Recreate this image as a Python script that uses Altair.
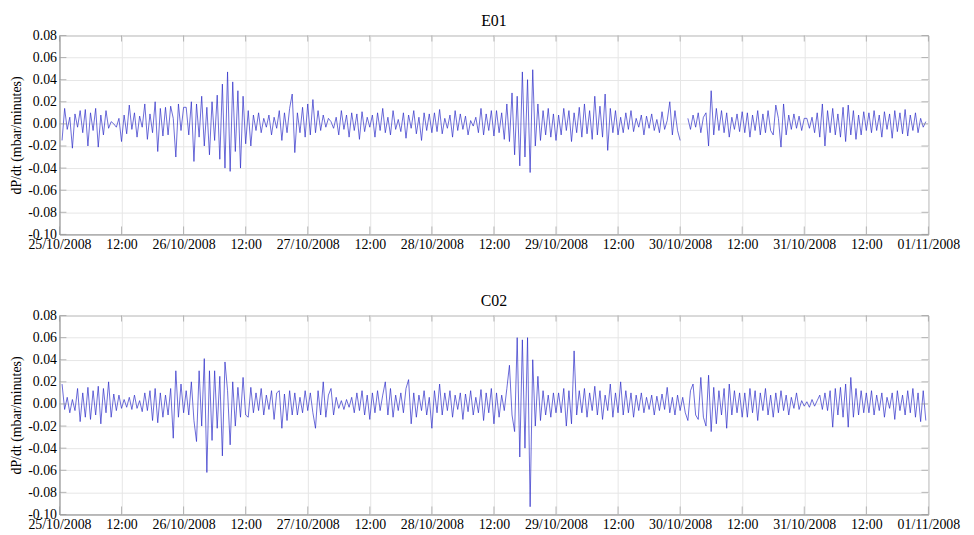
import altair as alt
import pandas as pd

# ---------------- data ----------------
PANEL_TITLES = ["E01", "C02"]
Y_TITLE = "dP/dt (mbar/minutes)"
START = "2008-10-25 00:30"
STEP = "30min"

X_TICKS = [
    "2008-10-25T00:00", "2008-10-25T12:00", "2008-10-26T00:00", "2008-10-26T12:00",
    "2008-10-27T00:00", "2008-10-27T12:00", "2008-10-28T00:00", "2008-10-28T12:00",
    "2008-10-29T00:00", "2008-10-29T12:00", "2008-10-30T00:00", "2008-10-30T12:00",
    "2008-10-31T00:00", "2008-10-31T12:00", "2008-11-01T00:00",
]
Y_TICKS = [-0.10, -0.08, -0.06, -0.04, -0.02, 0.0, 0.02, 0.04, 0.06, 0.08]

# E01, every 30 min from 25/10/2008 00:30 (one row = 12 h); None = missing
e01_values = [
    -0.015, 0.014, -0.005, 0.006, -0.022, 0.009, -0.003, 0.012, -0.008, 0.013, -0.020, 0.010, -0.006, 0.014, -0.021, 0.008, -0.010, 0.012, -0.004, 0.002, 0.000, -0.003, 0.005, -0.016,
    0.008, -0.009, 0.017, -0.005, 0.010, -0.012, 0.007, -0.003, 0.018, -0.014, 0.009, -0.008, 0.020, -0.025, 0.014, -0.011, 0.015, -0.010, 0.016, 0.005, -0.030, 0.018, -0.006, 0.015,
    0.015, -0.010, 0.020, -0.034, 0.018, -0.012, 0.025, -0.020, 0.015, -0.028, 0.020, -0.015, 0.026, -0.032, 0.036, -0.040, 0.047, -0.043, 0.038, -0.025, 0.030, -0.040, 0.025, -0.018,
    0.012, -0.020, 0.008, -0.006, 0.010, -0.008, 0.005, -0.003, 0.008, -0.010, 0.006, -0.004, 0.012, -0.015, 0.010, -0.008, 0.014, 0.027, -0.026, 0.010, -0.008, 0.015, -0.012, 0.018,
    -0.010, 0.022, -0.008, 0.012, -0.006, 0.008, -0.003, 0.005, 0.002, -0.004, 0.006, -0.010, 0.012, -0.005, 0.008, -0.012, 0.010, -0.006, 0.009, -0.014, 0.011, -0.007, 0.006, -0.003,
    0.008, -0.012, 0.010, -0.006, 0.014, -0.008, 0.006, -0.010, 0.012, -0.005, 0.004, -0.007, 0.010, -0.013, 0.008, -0.004, 0.012, -0.009, 0.006, -0.015, 0.010, -0.006, 0.009, -0.008,
    0.010, -0.007, 0.013, -0.009, 0.005, -0.004, 0.008, -0.012, 0.012, -0.006, 0.009, -0.005, 0.007, -0.010, 0.003, -0.002, 0.006, -0.008, 0.014, -0.010, 0.009, -0.006, 0.012, -0.011,
    0.012, -0.008, 0.010, -0.014, 0.018, -0.016, 0.028, -0.028, 0.025, -0.038, 0.047, -0.030, 0.040, -0.044, 0.049, -0.020, 0.018, -0.015, 0.012, -0.010, 0.014, -0.012, 0.009, -0.015,
    0.008, -0.010, 0.014, -0.006, 0.012, -0.016, 0.010, -0.008, 0.015, -0.012, 0.018, -0.009, 0.012, -0.014, 0.025, -0.010, 0.016, -0.012, 0.027, -0.024, 0.014, -0.008, 0.012, -0.010,
    0.006, -0.008, 0.010, -0.005, 0.012, -0.007, 0.005, -0.003, 0.008, -0.010, 0.007, -0.004, 0.009, -0.006, 0.004, -0.008, 0.011, -0.005, 0.003, 0.020, -0.010, 0.012, -0.006, -0.015,
    None, None, 0.005, -0.005, 0.008, -0.003, 0.010, -0.008, 0.006, 0.010, -0.020, 0.030, -0.010, 0.014, -0.006, 0.012, -0.008, 0.010, -0.012, 0.006, -0.005, 0.009, -0.007, 0.011,
    -0.008, 0.010, -0.012, 0.008, -0.006, 0.012, -0.010, 0.009, -0.008, 0.012, -0.006, -0.010, 0.017, 0.005, -0.021, 0.018, -0.010, 0.008, -0.005, 0.009, -0.004, 0.007, -0.006, 0.005,
    0.005, -0.004, 0.006, -0.008, 0.010, -0.012, 0.018, -0.020, 0.012, -0.008, 0.014, -0.010, 0.009, -0.012, 0.015, -0.016, 0.017, -0.010, 0.012, -0.014, 0.008, -0.010, 0.011, -0.006,
    0.010, -0.008, 0.012, -0.006, 0.008, -0.012, 0.011, -0.005, 0.009, -0.013, 0.012, -0.007, 0.010, -0.009, 0.013, -0.011, 0.008, -0.006, 0.010, -0.008, 0.005, -0.003, 0.002, None,
]

# C02, same sampling
c02_values = [
    0.018, -0.005, 0.006, -0.008, 0.004, -0.006, 0.014, -0.016, 0.010, -0.012, 0.015, -0.014, 0.012, -0.010, 0.016, -0.018, 0.014, -0.008, 0.020, -0.012, 0.009, -0.006, 0.008, -0.004,
    0.004, -0.003, 0.006, -0.005, 0.008, -0.004, 0.003, -0.007, 0.010, -0.006, 0.012, -0.015, 0.014, -0.017, 0.010, -0.012, 0.008, -0.010, 0.014, -0.031, 0.030, -0.012, 0.018, -0.008,
    0.012, -0.010, 0.020, -0.015, -0.034, 0.030, -0.020, 0.041, -0.062, 0.030, -0.033, 0.030, -0.022, 0.025, -0.047, 0.038, 0.012, -0.037, 0.020, -0.020, 0.015, -0.012, 0.024, -0.010,
    -0.012, 0.015, -0.008, 0.010, -0.006, 0.014, -0.010, 0.008, -0.005, 0.012, -0.014, 0.010, 0.012, -0.022, 0.009, -0.015, 0.012, -0.010, 0.010, -0.010, 0.006, -0.008, 0.012, -0.006,
    0.010, -0.008, -0.022, 0.012, -0.010, 0.020, -0.012, 0.008, 0.014, -0.010, 0.006, -0.004, 0.003, -0.005, 0.004, -0.003, 0.006, -0.008, 0.010, -0.006, 0.012, -0.010, 0.008, -0.014,
    0.010, -0.008, 0.012, -0.006, 0.008, 0.020, -0.010, 0.014, -0.012, 0.008, -0.006, 0.010, -0.008, 0.014, 0.022, -0.018, 0.010, -0.012, 0.008, -0.006, 0.012, -0.010, 0.006, -0.022,
    0.012, -0.008, 0.018, -0.010, 0.010, -0.006, 0.012, -0.012, 0.008, -0.005, 0.010, -0.014, 0.009, -0.007, 0.012, -0.010, 0.006, -0.008, 0.013, -0.015, 0.010, -0.008, 0.014, -0.018,
    0.010, -0.012, 0.008, -0.006, 0.014, 0.035, -0.010, -0.025, 0.060, -0.048, 0.058, -0.040, 0.060, -0.093, 0.040, -0.020, 0.025, -0.015, 0.012, -0.010, 0.008, -0.012, 0.010, -0.008,
    0.010, -0.008, 0.014, -0.020, 0.012, -0.018, 0.048, -0.010, 0.012, -0.008, 0.014, -0.012, 0.010, -0.006, 0.016, -0.010, 0.012, -0.014, 0.008, -0.006, 0.018, -0.012, 0.010, -0.008,
    0.020, -0.010, 0.012, -0.008, 0.010, -0.012, 0.008, -0.006, 0.010, -0.008, 0.006, -0.005, 0.008, -0.010, 0.007, -0.006, 0.009, -0.005, 0.015, -0.008, 0.006, -0.010, 0.008, -0.006,
    0.006, -0.008, -0.015, 0.012, 0.018, -0.010, -0.014, 0.024, -0.012, -0.020, 0.026, -0.025, 0.015, -0.018, 0.012, -0.010, 0.014, -0.022, 0.018, -0.010, 0.012, -0.008, 0.010, -0.012,
    0.010, -0.012, 0.014, -0.008, 0.012, -0.015, 0.010, -0.006, 0.014, -0.010, 0.008, -0.012, 0.010, -0.008, 0.012, -0.006, 0.008, -0.010, 0.006, -0.004, 0.010, -0.005, 0.003, -0.002,
    0.002, -0.003, 0.004, -0.002, 0.003, 0.008, -0.005, 0.010, -0.006, 0.012, -0.021, 0.014, -0.010, 0.015, -0.012, 0.018, -0.021, 0.024, -0.012, 0.014, -0.010, 0.012, -0.008, 0.010,
    -0.008, 0.012, -0.010, 0.008, -0.006, 0.010, -0.012, 0.006, -0.004, 0.010, -0.014, 0.012, -0.006, 0.008, -0.010, 0.012, -0.008, 0.014, -0.012, 0.010, -0.016, 0.012, -0.015, None,
]

# ---------------- style ----------------
FONT = "Liberation Serif, Times New Roman, DejaVu Serif, serif"
LINE_COLOR = "#2c2cc8"
FRAME_COLOR = "#9a9a9a"
GRID_COLOR = "#e6e6e6"
W, H = 878, 201


def to_frame(values):
    times = pd.date_range(START, periods=len(values), freq=STEP)
    rows, seg = [], 0
    for t, v in zip(times, values):
        if v is None:
            seg += 1
            continue
        rows.append({"t": t.strftime("%Y-%m-%dT%H:%M:%S"), "v": v, "seg": seg})
    return pd.DataFrame(rows)


def dt(s):
    ts = pd.Timestamp(s)
    return alt.DateTime(year=ts.year, month=ts.month, date=ts.day, hours=ts.hour, minutes=ts.minute)


x_scale = alt.Scale(domain=[dt(X_TICKS[0]), dt(X_TICKS[-1])], nice=False)
y_scale = alt.Scale(domain=[Y_TICKS[0], Y_TICKS[-1]], nice=False, zero=False)

x_axis = alt.Axis(
    values=[dt(s) for s in X_TICKS],
    labelExpr="hours(datum.value) == 0 ? timeFormat(datum.value, '%d/%m/%Y') : timeFormat(datum.value, '%H:%M')",
    title=None, grid=True, ticks=False, labelFlush=False, labelOverlap=False, labelPadding=3,
)
y_axis = alt.Axis(
    values=Y_TICKS,
    labelExpr="(datum.value < 0 ? '-' : '') + format(abs(datum.value), '.2f')",
    title=Y_TITLE, grid=True, ticks=False, labelPadding=3, titlePadding=4,
)

xt_df = pd.DataFrame({"t": [s + ":00" for s in X_TICKS]})
yt_df = pd.DataFrame({"v": Y_TICKS})


def panel(values, title):
    df = to_frame(values)
    line = alt.Chart(df).mark_line(color=LINE_COLOR, strokeWidth=0.7, clip=True).encode(
        x=alt.X("t:T", scale=x_scale, axis=x_axis),
        y=alt.Y("v:Q", scale=y_scale, axis=y_axis),
        detail="seg:N",
    )
    xt_top = alt.Chart(xt_df).mark_tick(orient="vertical", size=6, thickness=1, color=FRAME_COLOR).encode(
        x=alt.X("t:T", scale=x_scale, axis=x_axis), y=alt.value(3))
    xt_bot = alt.Chart(xt_df).mark_tick(orient="vertical", size=8, thickness=1, color=FRAME_COLOR).encode(
        x=alt.X("t:T", scale=x_scale, axis=x_axis), y=alt.value(H - 4))
    yt_left = alt.Chart(yt_df).mark_tick(orient="horizontal", size=7, thickness=1, color=FRAME_COLOR).encode(
        y=alt.Y("v:Q", scale=y_scale, axis=y_axis), x=alt.value(3.5))
    yt_right = alt.Chart(yt_df).mark_tick(orient="horizontal", size=7, thickness=1, color=FRAME_COLOR).encode(
        y=alt.Y("v:Q", scale=y_scale, axis=y_axis), x=alt.value(W - 3.5))
    return alt.layer(line, xt_top, xt_bot, yt_left, yt_right).properties(
        width=W, height=H,
        title=alt.TitleParams(title, fontSize=16, fontWeight="normal", font=FONT,
                              color="black", offset=0, anchor="middle"),
    )


chart = alt.vconcat(
    panel(e01_values, PANEL_TITLES[0]),
    panel(c02_values, PANEL_TITLES[1]),
    spacing=40,
).configure(
    font=FONT,
    padding={"left": 1, "top": 1, "right": 5, "bottom": 0},
).configure_view(
    stroke=FRAME_COLOR, strokeWidth=1,
).configure_axis(
    labelFont=FONT, titleFont=FONT, labelFontSize=14, titleFontSize=14,
    labelColor="black", titleColor="black", titleFontWeight="normal",
    gridColor=GRID_COLOR, gridWidth=1, domainColor=FRAME_COLOR, domainWidth=1,
).configure_title(
    font=FONT,
)

chart.save("out.html", embed_options={"renderer": "svg", "actions": False})
